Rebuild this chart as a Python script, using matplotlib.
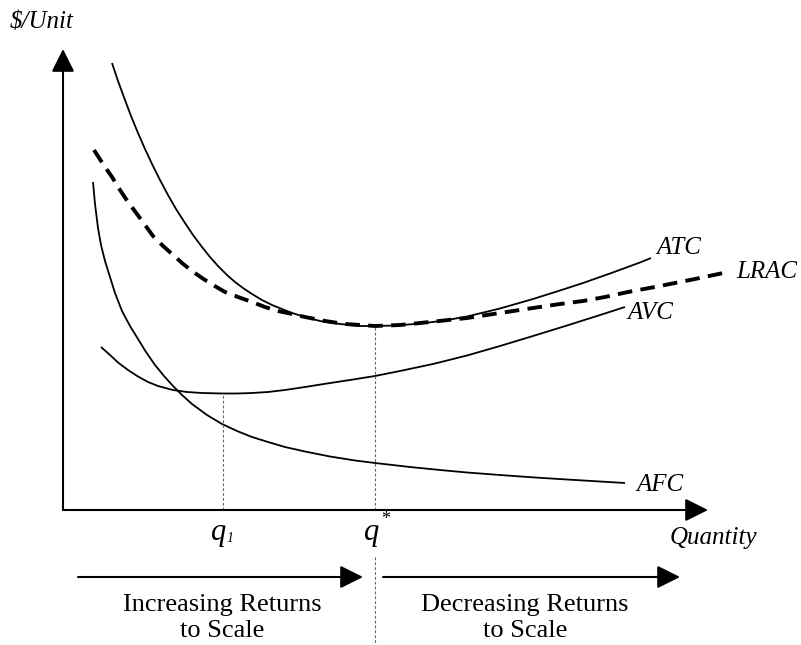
import matplotlib
matplotlib.use('Agg')
import matplotlib.pyplot as plt

plt.rcParams['font.family'] = ['Liberation Serif', 'DejaVu Serif']
plt.rcParams['lines.scale_dashes'] = False

# curve readings (origin at the axes corner, units ~ pixels of the original)
atc_x = [49, 55, 62, 68, 75, 82, 89, 97, 105, 113, 122, 130, 139, 147, 155, 164, 172, 180, 189, 199,
         209, 219, 229, 242, 257, 277, 297, 312, 332, 352, 370, 387, 404, 437, 470, 497, 520, 547, 577, 588]
atc_y = [447, 429, 410, 394, 377, 361, 346, 330, 315, 301, 287, 275, 263, 253, 244, 235, 228, 222, 216, 210,
         205, 201, 197, 193, 189, 186, 184, 184, 184.5, 186, 188, 190.5, 193.5, 201.5, 211, 219.5, 227, 236.5,
         247.5, 252]

lrac_x = [31, 40, 49, 57, 65, 74, 82, 90, 99, 109, 119, 129, 139, 150, 162, 175, 189, 202,
          215, 229, 242, 262, 282, 312, 337, 367, 404, 437, 470, 497, 520, 542, 565, 597, 632, 665]
lrac_y = [360, 346, 333, 320, 308, 296, 285, 274, 265, 256, 247, 239, 232, 225, 218, 213, 208, 203,
          199, 196, 193, 189, 186, 184, 185, 188, 192, 197, 202, 206, 209, 213, 218, 224, 231, 238]

avc_x = [38, 47, 55, 65, 75, 85, 95, 110, 124, 139, 159, 174, 189, 205, 222, 242, 264, 287,
         312, 337, 370, 404, 437, 470, 504, 534, 562]
avc_y = [163, 155, 147.5, 140, 133.5, 128, 124, 120, 118, 117, 116.5, 116.5, 117, 118, 120, 123, 126.5, 130,
         134, 139, 146, 154.5, 164, 174, 184.5, 194, 203]

afc_x = [30, 32, 35, 38, 42, 47, 52, 59, 67, 75, 83, 92, 101, 110, 119, 129, 144, 159, 174, 189,
         205, 222, 242, 267, 292, 312, 347, 377, 404, 437, 472, 504, 537, 562]
afc_y = [328, 306, 282, 265, 249, 233, 217, 199, 184, 171, 158, 145, 134, 124, 115, 106, 95, 86, 79, 73,
         68, 63, 58.5, 53.5, 49.5, 47, 43, 40, 37.5, 35, 32.5, 30.5, 28.5, 27]

q1 = 160
q_star = 312
avc_min = 117
lrac_min = 184

fig = plt.figure(figsize=(8.01, 6.45), dpi=100)
ax = fig.add_axes([0, 0, 1, 1])
ax.set_xlim(-63, 738)
ax.set_ylim(-135, 510)
ax.axis('off')

# axes with arrow heads
arr = dict(arrowstyle='-|>,head_length=1.0,head_width=0.5', mutation_scale=14,
           color='black', lw=1.5, shrinkA=0, shrinkB=0)
ax.annotate('', xy=(0, 461), xytext=(0, 0), arrowprops=arr)
ax.annotate('', xy=(645, 0), xytext=(0, 0), arrowprops=arr)

# cost curves
curve = dict(color='black', lw=1.3, solid_capstyle='butt', solid_joinstyle='round')
ax.plot(atc_x, atc_y, **curve)
ax.plot(avc_x, avc_y, **curve)
ax.plot(afc_x, afc_y, **curve)
ax.plot(lrac_x, lrac_y, color='black', lw=2.8, dashes=(10.5, 6), dash_capstyle='butt')

# guide lines
guide = dict(color='#666666', lw=0.8, dashes=(2, 1.5))
ax.plot([q1, q1], [0, avc_min], **guide)
ax.plot([q_star, q_star], [0, lrac_min], **guide)
ax.plot([q_star, q_star], [-47, -135], **guide)

# curve labels
lab = dict(fontsize=18, style='italic', va='center', ha='left')
ax.text(593, 262, 'ATC', **lab)
ax.text(673, 238, 'LRAC', **lab)
ax.text(564, 197, 'AVC', **lab)
ax.text(573, 25, 'AFC', **lab)
ax.text(-53, 488, '$/Unit', **lab)
ax.text(650, -28, 'Quantity', fontsize=18, style='italic', va='center', ha='center')

# quantity markers
ax.text(q1 - 4, -30, 'q', fontsize=22, style='italic', ha='center', va='baseline')
ax.text(q1 + 7, -32, '1', fontsize=10, style='italic', ha='center', va='baseline')
ax.text(q_star - 3, -30, 'q', fontsize=22, style='italic', ha='center', va='baseline')
ax.text(q_star + 11, -14, '*', fontsize=13, ha='center', va='baseline')

# returns to scale arrows
ax.annotate('', xy=(300, -67), xytext=(15, -67), arrowprops=arr)
ax.annotate('', xy=(617, -67), xytext=(320, -67), arrowprops=arr)
ax.text(159, -108, 'Increasing Returns\nto Scale', fontsize=19, ha='center', va='center',
        linespacing=1.25)
ax.text(462, -108, 'Decreasing Returns\nto Scale', fontsize=19, ha='center', va='center',
        linespacing=1.25)

fig.savefig('out.png', dpi=100)
